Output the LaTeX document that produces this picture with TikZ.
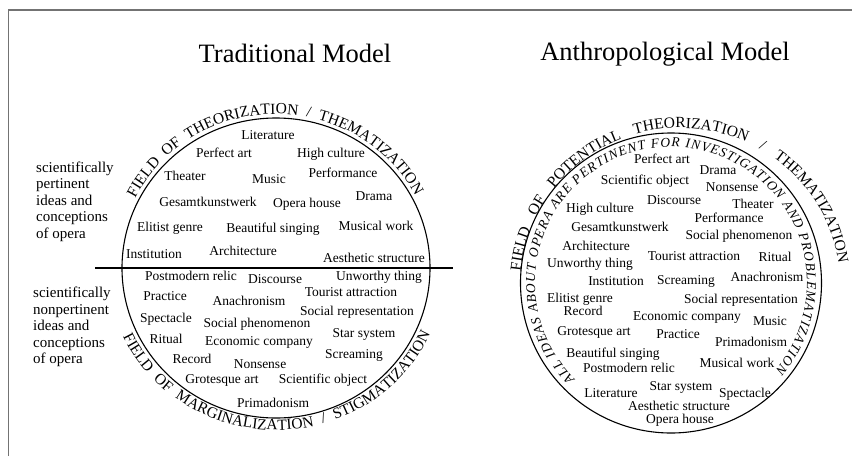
\documentclass[tikz,border=0pt]{standalone}
\usepackage{fontspec}
\setmainfont{Liberation Serif}
\usetikzlibrary{decorations.text,calc}
\begin{document}
\begin{tikzpicture}[x=1pt,y=1pt,
  word/.style={anchor=base, inner sep=0pt, font=\fontsize{13.5}{13.5}\selectfont},
  side/.style={anchor=base west, inner sep=0pt, font=\fontsize{15}{15}\selectfont},
  ttl/.style={anchor=base, inner sep=0pt, font=\fontsize{26.5}{26.5}\selectfont},
  ring/.style={line width=1.1pt},
  divider/.style={line width=1.7pt},
  framel/.style={draw=black!55, line width=1.4pt}]
\useasboundingbox (0,0) rectangle (852,-456);
% frame
\coordinate (f1) at (8.5,-456);
\coordinate (f2) at (8.5,-10);
\coordinate (f3) at (852,-10);
\draw[framel] (f1) -- (f2) -- (f3);
% titles
\node[ttl] (t1) at (295,-62) {Traditional Model};
\node[ttl] (t2) at (665,-60) {Anthropological Model};
% circles
\coordinate (LC) at (276,-268);
\coordinate (RC) at (671,-283);
\draw[ring] (LC) ellipse [x radius=154, y radius=150];
\draw[ring] (RC) ellipse [x radius=150.5, y radius=150];
\coordinate (hl) at (95,-268);
\coordinate (hr) at (453,-268);
\draw[divider] (hl) -- (hr);
% curved texts
\path[decorate, decoration={text along path, text align={fit to path stretching spaces},
  text={|\fontsize{15.5}{15.5}\selectfont|FIELD OF THEORIZATION / THEMATIZATION}}]
  ($(LC)+(153:158 and 154)$) arc[start angle=153, end angle=28, x radius=158, y radius=154];
\path[decorate, decoration={text along path, text align={fit to path stretching spaces},
  text={|\fontsize{15.5}{15.5}\selectfont|FIELD OF MARGINALIZATION / STIGMATIZATION}}]
  ($(LC)+(205:169 and 162)$) arc[start angle=205, end angle=336, x radius=169, y radius=162];
\coordinate (RO) at (680,-285);
\path[decorate, decoration={text along path, text align={fit to path stretching spaces},
  text={|\fontsize{15.5}{15.5}\selectfont|FIELD OF POTENTIAL THEORIZATION / THEMATIZATION}}]
  ($(RO)+(175:160 and 157)$) arc[start angle=175, end angle=8, x radius=160, y radius=157];
\path[decorate, decoration={text along path, text align={fit to path},
  text={|\itshape\fontsize{13.5}{13.5}\selectfont|ALL IDEAS ABOUT OPERA ARE PERTINENT FOR INVESTIGATION AND PROBLEMATIZATION}}]
  ($(RC)+(225:136 and 136)$) arc[start angle=225, end angle=-40, x radius=136, y radius=136];
% side labels
\node[side] (s1) at (36,-172) {scientifically};
\node[side] (s2) at (36,-188.5) {pertinent};
\node[side] (s3) at (36,-205) {ideas and};
\node[side] (s4) at (36,-221.5) {conceptions};
\node[side] (s5) at (36,-238) {of opera};
\node[side] (n1) at (33,-297) {scientifically};
\node[side] (n2) at (33,-314) {nonpertinent};
\node[side] (n3) at (33,-330.5) {ideas and};
\node[side] (n4) at (33,-347) {conceptions};
\node[side] (n5) at (33,-363) {of opera};
% left upper words
\node[word] (a1) at (268,-139) {Literature};
\node[word] (a2) at (224,-157) {Perfect art};
\node[word] (a3) at (331,-157) {High culture};
\node[word] (a4) at (185,-180) {Theater};
\node[word] (a5) at (269,-183) {Music};
\node[word] (a6) at (343,-177) {Performance};
\node[word] (a7) at (208,-206) {Gesamtkunstwerk};
\node[word] (a8) at (307,-207) {Opera house};
\node[word] (a9) at (374,-200) {Drama};
\node[word] (a10) at (170,-231) {Elitist genre};
\node[word] (a11) at (273,-232) {Beautiful singing};
\node[word] (a12) at (376,-230) {Musical work};
\node[word] (a13) at (154,-258.5) {Institution};
\node[word] (a14) at (243,-255) {Architecture};
\node[word] (a15) at (374,-262) {Aesthetic structure};
% left lower words
\node[word] (b1) at (191,-280.5) {Postmodern relic};
\node[word] (b2) at (275,-283) {Discourse};
\node[word] (b3) at (379,-280) {Unworthy thing};
\node[word] (b4) at (351,-296) {Tourist attraction};
\node[word] (b5) at (165,-300) {Practice};
\node[word] (b6) at (249,-305) {Anachronism};
\node[word] (b7) at (166,-322) {Spectacle};
\node[word] (b8) at (357,-315) {Social representation};
\node[word] (b9) at (257,-327) {Social phenomenon};
\node[word] (b10) at (166,-343) {Ritual};
\node[word] (b11) at (259,-345) {Economic company};
\node[word] (b12) at (364,-337) {Star system};
\node[word] (b13) at (192,-363) {Record};
\node[word] (b14) at (260,-368) {Nonsense};
\node[word] (b15) at (354,-358) {Screaming};
\node[word] (b16) at (222,-383) {Grotesque art};
\node[word] (b17) at (323,-383) {Scientific object};
\node[word] (b18) at (273,-407) {Primadonism};
% right words
\node[word] (c1) at (662,-163) {Perfect art};
\node[word] (c2) at (718,-174) {Drama};
\node[word] (c3) at (645,-184) {Scientific object};
\node[word] (c4) at (732,-191) {Nonsense};
\node[word] (c5) at (674,-204) {Discourse};
\node[word] (c6) at (753,-208) {Theater};
\node[word] (c7) at (600,-212) {High culture};
\node[word] (c8) at (729,-222) {Performance};
\node[word] (c9) at (620,-231) {Gesamtkunstwerk};
\node[word] (c10) at (739,-239) {Social phenomenon};
\node[word] (c11) at (596,-250) {Architecture};
\node[word] (c12) at (694,-260) {Tourist attraction};
\node[word] (c13) at (775,-261) {Ritual};
\node[word] (c14) at (590,-267) {Unworthy thing};
\node[word] (c15) at (616,-285) {Institution};
\node[word] (c16) at (686,-284) {Screaming};
\node[word] (c17) at (767,-281) {Anachronism};
\node[word] (c18) at (580,-302) {Elitist genre};
\node[word] (c19) at (741,-303) {Social representation};
\node[word] (c20) at (583,-315) {Record};
\node[word] (c21) at (687,-320) {Economic company};
\node[word] (c22) at (770,-325) {Music};
\node[word] (c23) at (594,-335) {Grotesque art};
\node[word] (c24) at (678,-338) {Practice};
\node[word] (c25) at (751,-346) {Primadonism};
\node[word] (c26) at (613,-357) {Beautiful singing};
\node[word] (c27) at (737,-367) {Musical work};
\node[word] (c28) at (629,-372) {Postmodern relic};
\node[word] (c29) at (611,-397) {Literature};
\node[word] (c30) at (681,-390) {Star system};
\node[word] (c31) at (745,-397) {Spectacle};
\node[word] (c32) at (679,-410) {Aesthetic structure};
\node[word] (c33) at (680,-423) {Opera house};
\end{tikzpicture}
\end{document}
